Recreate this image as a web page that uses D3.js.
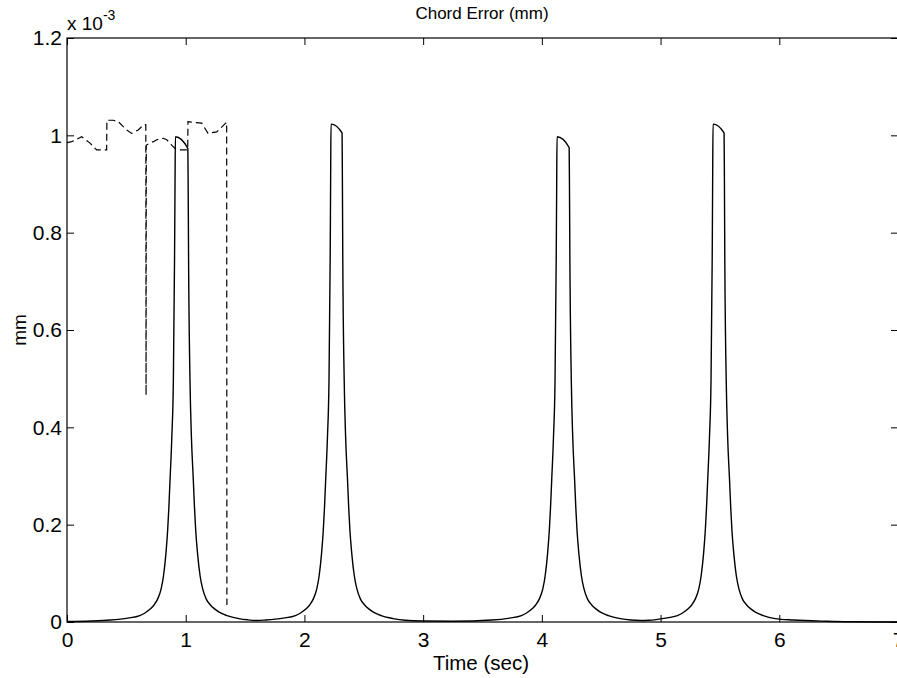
<!DOCTYPE html>
<html>
<head>
<meta charset="utf-8">
<script src="https://cdn.jsdelivr.net/npm/d3@7"></script>
<style>
  html, body { margin: 0; padding: 0; background: #fff; }
  svg { display: block; }
</style>
</head>
<body>
<div id="chart"></div>
<script>
// Chord error, values in units of 1e-3 mm
const xTicks = [0, 1, 2, 3, 4, 5, 6, 7];
const yTicks = [0, 0.2, 0.4, 0.6, 0.8, 1.0, 1.2];

// solid trace: [time (s), error (x1e-3 mm)]
const solidTrace = [
  [0, 0.001], [0.2, 0.002],
  // peak 1
  [0.363, 0.004], [0.513, 0.008], [0.613, 0.013], [0.653, 0.018], [0.703, 0.027], [0.733, 0.035],
  [0.763, 0.047], [0.793, 0.068], [0.813, 0.095], [0.833, 0.14], [0.848, 0.189], [0.858, 0.235],
  [0.868, 0.292], [0.883, 0.38], [0.896, 0.497], [0.906, 0.75], [0.910, 0.9], [0.913, 0.997],
  [1.018, 0.973], [1.021, 0.88], [1.024, 0.75], [1.036, 0.497], [1.048, 0.38], [1.064, 0.292],
  [1.074, 0.235], [1.084, 0.189], [1.100, 0.14], [1.121, 0.095], [1.143, 0.068], [1.173, 0.047],
  [1.208, 0.035], [1.243, 0.027], [1.298, 0.018], [1.348, 0.013], [1.448, 0.007], [1.52, 0.0045],
  [1.60, 0.003],
  // peak 2
  [1.674, 0.004], [1.824, 0.008], [1.924, 0.013], [1.964, 0.018], [2.014, 0.027], [2.044, 0.035],
  [2.074, 0.047], [2.104, 0.068], [2.124, 0.095], [2.144, 0.14], [2.159, 0.189], [2.169, 0.235],
  [2.179, 0.292], [2.194, 0.38], [2.207, 0.497], [2.217, 0.75], [2.221, 0.92], [2.224, 1.023],
  [2.317, 1.005], [2.320, 0.9], [2.323, 0.75], [2.335, 0.497], [2.347, 0.38], [2.363, 0.292],
  [2.373, 0.235], [2.383, 0.189], [2.399, 0.14], [2.420, 0.095], [2.442, 0.068], [2.472, 0.047],
  [2.507, 0.035], [2.542, 0.027], [2.597, 0.018], [2.647, 0.013], [2.747, 0.007], [2.85, 0.0035],
  [3.0, 0.002], [3.25, 0.0015],
  // peak 3
  [3.578, 0.004], [3.728, 0.008], [3.828, 0.013], [3.868, 0.018], [3.918, 0.027], [3.948, 0.035],
  [3.978, 0.047], [4.008, 0.068], [4.028, 0.095], [4.048, 0.14], [4.063, 0.189], [4.073, 0.235],
  [4.083, 0.292], [4.098, 0.38], [4.111, 0.497], [4.121, 0.75], [4.125, 0.9], [4.128, 0.997],
  [4.230, 0.975], [4.233, 0.88], [4.236, 0.75], [4.248, 0.497], [4.260, 0.38], [4.276, 0.292],
  [4.286, 0.235], [4.296, 0.189], [4.312, 0.14], [4.333, 0.095], [4.355, 0.068], [4.385, 0.047],
  [4.420, 0.035], [4.455, 0.027], [4.510, 0.018], [4.560, 0.013], [4.660, 0.007], [4.75, 0.004],
  [4.83, 0.003],
  // peak 4
  [4.90, 0.0035], [5.042, 0.008], [5.142, 0.013], [5.182, 0.018], [5.232, 0.027], [5.262, 0.035],
  [5.292, 0.047], [5.322, 0.068], [5.342, 0.095], [5.362, 0.14], [5.377, 0.189], [5.387, 0.235],
  [5.397, 0.292], [5.412, 0.38], [5.425, 0.497], [5.435, 0.75], [5.439, 0.92], [5.442, 1.023],
  [5.535, 1.005], [5.538, 0.9], [5.541, 0.75], [5.553, 0.497], [5.565, 0.38], [5.581, 0.292],
  [5.591, 0.235], [5.601, 0.189], [5.617, 0.14], [5.638, 0.095], [5.660, 0.068], [5.690, 0.047],
  [5.725, 0.035], [5.760, 0.027], [5.815, 0.018], [5.865, 0.013], [5.965, 0.007], [6.12, 0.004],
  [6.4, 0.0015], [6.6, 0.0005], [7, 0]
];

// dashed trace
const dashedTrace = [
  [0, 0.985], [0.04, 0.987], [0.124, 0.997], [0.194, 0.984], [0.25, 0.970], [0.334, 0.970],
  [0.336, 1.031], [0.39, 1.031], [0.432, 1.028], [0.474, 1.018], [0.503, 1.011], [0.545, 1.004],
  [0.6, 1.011], [0.643, 1.021], [0.664, 1.022], [0.666, 0.466], [0.668, 0.98], [0.727, 0.987],
  [0.756, 0.991], [0.811, 0.994], [0.84, 0.991], [0.882, 0.98], [0.91, 0.973], [0.95, 0.97],
  [1.017, 0.97], [1.019, 1.028], [1.135, 1.025], [1.188, 1.004], [1.261, 1.007], [1.345, 1.027],
  [1.347, 0.035]
];

const W = 897, H = 678;
const margin = { top: 38, right: -1, bottom: 56, left: 67 };
const width = W - margin.left - margin.right;
const height = H - margin.top - margin.bottom;
const FONT = 'Arial, "Liberation Sans", Helvetica, sans-serif';

const svg = d3.select('#chart').append('svg')
  .attr('width', W).attr('height', H);
const g = svg.append('g').attr('transform', `translate(${margin.left},${margin.top})`);

const x = d3.scaleLinear().domain([0, 7]).range([0, width]);
const y = d3.scaleLinear().domain([0, 1.2]).range([height, 0]);

// matlab style tick labels: 0, 0.2, ..., 1, 1.2
const fmtY = d3.format('~g');

// axes with inward ticks
const xAxis = g.append('g').attr('transform', `translate(0,${height})`)
  .call(d3.axisBottom(x).tickValues(xTicks).tickFormat(d3.format('d')).tickSize(-7).tickPadding(10));
const yAxis = g.append('g')
  .call(d3.axisLeft(y).tickValues(yTicks).tickFormat(fmtY).tickSize(-7).tickPadding(5));
g.append('g')
  .call(d3.axisTop(x).tickValues(xTicks).tickFormat('').tickSize(-7));
g.append('g').attr('transform', `translate(${width},0)`)
  .call(d3.axisRight(y).tickValues(yTicks).tickFormat('').tickSize(-7));

g.selectAll('.domain').remove();
g.selectAll('.tick line').attr('stroke', '#000').attr('stroke-width', 1);
g.selectAll('.tick text')
  .attr('font-size', 21).attr('font-family', FONT).attr('fill', '#000');

// axes box
g.append('rect')
  .attr('x', 0).attr('y', 0).attr('width', width).attr('height', height)
  .attr('fill', 'none').attr('stroke', '#000').attr('stroke-width', 1.2);

// traces
const line = d3.line().x(d => x(d[0])).y(d => y(d[1]));

g.append('path').datum(solidTrace)
  .attr('d', line.curve(d3.curveMonotoneX))
  .attr('fill', 'none').attr('stroke', '#000').attr('stroke-width', 1.4);

g.append('path').datum(dashedTrace)
  .attr('d', d3.line().x(d => x(d[0])).y(d => y(d[1])))
  .attr('fill', 'none').attr('stroke', '#000').attr('stroke-width', 1.2)
  .attr('stroke-dasharray', '7,4');

// exponent label
const expo = svg.append('text')
  .attr('x', 67).attr('y', 30)
  .attr('font-family', FONT).attr('font-size', 19);
expo.append('tspan').text('x 10');
expo.append('tspan').attr('font-size', 14).attr('dy', -10).text('-3');

// title and labels
svg.append('text')
  .attr('x', 482).attr('y', 19)
  .attr('text-anchor', 'middle')
  .attr('font-family', FONT).attr('font-size', 17)
  .text('Chord Error (mm)');

svg.append('text')
  .attr('x', 481).attr('y', 670)
  .attr('text-anchor', 'middle')
  .attr('font-family', FONT).attr('font-size', 20.5)
  .text('Time (sec)');

svg.append('text')
  .attr('transform', 'translate(26,330) rotate(-90)')
  .attr('text-anchor', 'middle')
  .attr('font-family', FONT).attr('font-size', 19)
  .text('mm');
</script>
</body>
</html>
